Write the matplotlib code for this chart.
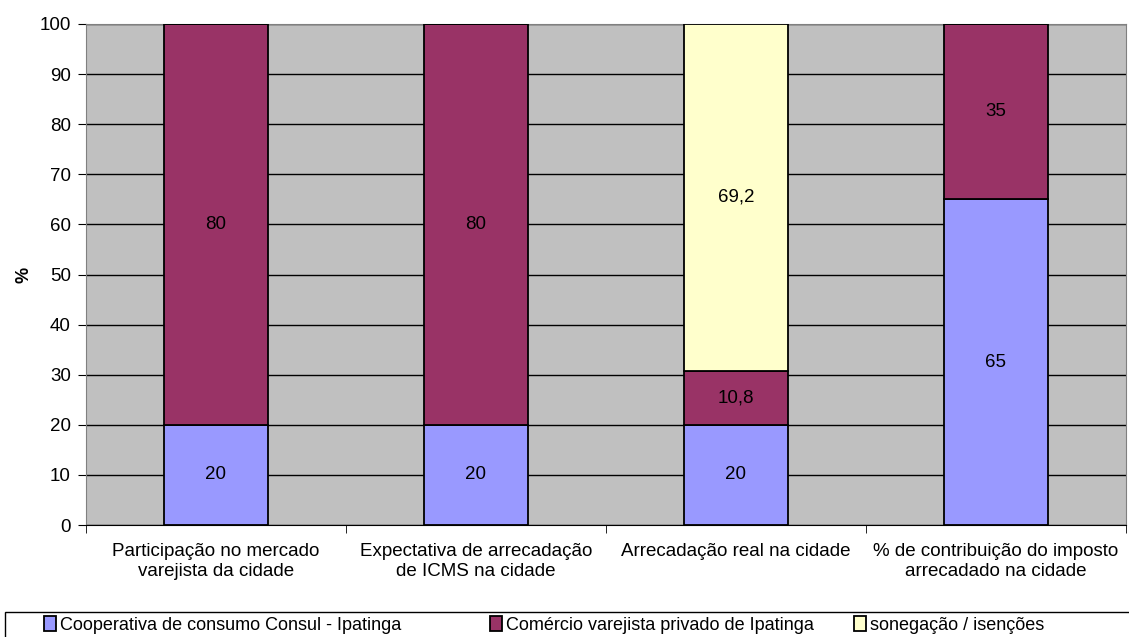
import numpy as np
import matplotlib.pyplot as plt
from matplotlib.patches import Rectangle

# Categorias e valores (%)
categorias = ['Participação no mercado\nvarejista da cidade',
              'Expectativa de arrecadação\nde ICMS na cidade',
              'Arrecadação real na cidade',
              '% de contribuição do imposto\narrecadado na cidade']
cooperativa = [20, 20, 20, 65]
comercio = [80, 80, 10.8, 35]
sonegacao = [0, 0, 69.2, 0]

series = ['Cooperativa de consumo Consul - Ipatinga',
          'Comércio varejista privado de Ipatinga',
          'sonegação / isenções']
cores = ['#9999FF', '#993366', '#FFFFCC']

plt.rcParams['font.family'] = ['Liberation Sans', 'DejaVu Sans']
W, H = 1129, 637

fig = plt.figure(figsize=(W/100, H/100), dpi=100)
ax = fig.add_axes([86/W, 1-525/H, 1040/W, 501/H])
ax.set_facecolor('#C0C0C0')

x = np.arange(len(categorias))
larg = 0.4
base = np.zeros(len(x))
barras = []
for vals, cor, nome in zip([cooperativa, comercio, sonegacao], cores, series):
    vals = np.array(vals, dtype=float)
    b = ax.bar(x, vals, larg, bottom=base, color=cor, edgecolor='black',
               linewidth=1.3, label=nome, zorder=3)
    barras.append(b)
    for xi, v, b0 in zip(x, vals, base):
        if v > 0:
            txt = f'{v:g}'.replace('.', ',')
            ax.text(xi, b0 + v/2, txt, ha='center', va='center', fontsize=13.5, zorder=4)
    base += vals

ax.set_xlim(-0.5, len(x) - 0.5)
ax.set_ylim(0, 100)
ax.set_yticks(range(0, 101, 10))
ax.yaxis.grid(True, color='black', linewidth=1, zorder=1)
ax.set_axisbelow(True)
ax.set_xticks(x)
ax.set_xticklabels(categorias, fontsize=13.5)
ax.set_xticks(np.arange(-0.5, len(x)), minor=True)
ax.tick_params(axis='x', which='major', length=0, pad=13)
ax.tick_params(axis='x', which='minor', length=6, direction='out')
ax.tick_params(axis='y', length=6, labelsize=13.5, pad=5)
for lado in ['top', 'right', 'left']:
    ax.spines[lado].set_color('#808080')
ax.spines['bottom'].set_color('black')
ax.set_ylabel('%', fontsize=13, fontweight='bold', labelpad=5)

# moldura da legenda (ultrapassa a borda da figura)
fig.patches.append(Rectangle((5/W, -0.05), 1.1, 1-612/H + 0.05, transform=fig.transFigure,
                             facecolor='white', edgecolor='black', linewidth=1, zorder=0))

# uma legenda por série, para posicionar cada item
pos_x = [44, 490, 854]
for b, nome, px in zip(barras, series, pos_x):
    fig.legend([b], [nome], loc='center left', bbox_to_anchor=(px/W, 1-625/H),
               frameon=False, borderaxespad=0, borderpad=0,
               handlelength=0.65, handleheight=0.85, handletextpad=0.25,
               prop={'size': 13})

fig.savefig('out.png', dpi=100)
